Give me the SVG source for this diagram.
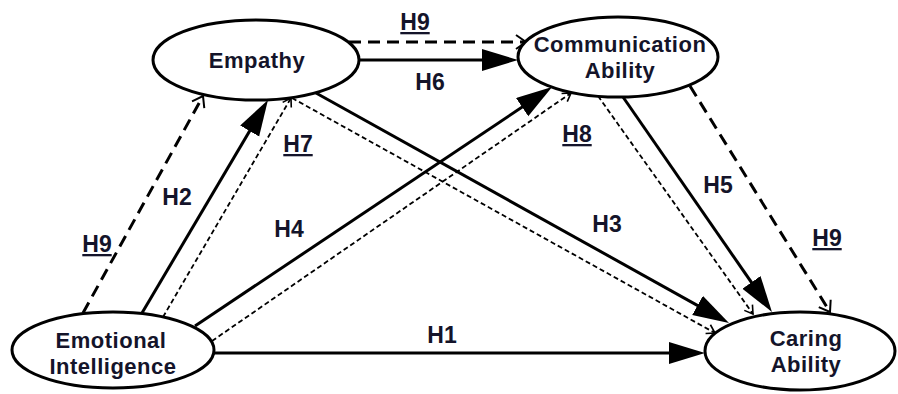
<svg xmlns="http://www.w3.org/2000/svg" width="898" height="394" viewBox="0 0 898 394">
<defs>
<style>
.node ellipse{fill:#fff;stroke:#000;stroke-width:3}
.node text{font-family:"Liberation Sans",Arial,sans-serif;font-weight:bold;font-size:22px;letter-spacing:0.5px;fill:#14142a;text-anchor:middle}
.lbl{font-family:"Liberation Sans",Arial,sans-serif;font-weight:bold;font-size:23px;fill:#14142a;text-anchor:middle}
.ul{text-decoration:underline}
.solid{stroke:#000;stroke-width:3;fill:none;marker-end:url(#fill)}
.dash{stroke:#000;stroke-width:3;fill:none;stroke-dasharray:12 7;marker-end:url(#open)}
.dot{stroke:#000;stroke-width:1.8;fill:none;stroke-dasharray:5 3;marker-end:url(#opensm)}
</style>
<marker id="fill" markerUnits="userSpaceOnUse" markerWidth="40" markerHeight="24" refX="28" refY="11" orient="auto">
<path d="M0,0 L36,11 L0,22 z" fill="#000"/>
</marker>
<marker id="open" markerUnits="userSpaceOnUse" markerWidth="16" markerHeight="20" refX="11" refY="8" orient="auto">
<path d="M1,1 L11,8 L1,15" fill="none" stroke="#000" stroke-width="2"/>
</marker>
<marker id="opensm" markerUnits="userSpaceOnUse" markerWidth="14" markerHeight="16" refX="9" refY="6" orient="auto">
<path d="M1,1 L9,6 L1,11" fill="none" stroke="#000" stroke-width="1.6"/>
</marker>
</defs>
<rect width="898" height="394" fill="#fff"/>
<g id="connectors">
<path class="dash" d="M349,42 L526,42"/>
<path class="solid" d="M359,60 L510,60"/>
<path class="dash" d="M83,313 L203,96"/>
<path class="solid" d="M142,313 L263.9,106.9"/>
<path class="dot" d="M163,317 L291,98"/>
<path class="dot" d="M292,98 L715,333"/>
<path class="solid" d="M316,93 L722,319.1"/>
<path class="solid" d="M195,326 L545.4,91.5"/>
<path class="dot" d="M212,341 L571,93"/>
<path class="dot" d="M598,96 L753,314"/>
<path class="solid" d="M623,97 L767.4,305.4"/>
<path class="dash" d="M690,86 L830,312"/>
<path class="solid" d="M214,353 L697,353"/>
</g>
<g id="labels">
<text class="lbl ul" x="415" y="30">H9</text>
<text class="lbl" x="430" y="90">H6</text>
<text class="lbl ul" x="298" y="152">H7</text>
<text class="lbl ul" x="577" y="142">H8</text>
<text class="lbl" x="177" y="205">H2</text>
<text class="lbl ul" x="97" y="252">H9</text>
<text class="lbl" x="289" y="237">H4</text>
<text class="lbl" x="607" y="232">H3</text>
<text class="lbl" x="718" y="193">H5</text>
<text class="lbl ul" x="827" y="246">H9</text>
<text class="lbl" x="442" y="343">H1</text>
</g>
<g id="empathy" class="node">
<ellipse cx="256" cy="60" rx="103" ry="40"/>
<text x="257" y="68">Empathy</text>
</g>
<g id="communication" class="node">
<ellipse cx="618" cy="57" rx="100" ry="40"/>
<text x="620" y="52">Communication</text>
<text x="620" y="78">Ability</text>
</g>
<g id="emotional" class="node">
<ellipse cx="113" cy="350" rx="101" ry="38"/>
<text x="111" y="348">Emotional</text>
<text x="113" y="374">Intelligence</text>
</g>
<g id="caring" class="node">
<ellipse cx="800" cy="351" rx="95" ry="39"/>
<text x="806" y="346">Caring</text>
<text x="806" y="372">Ability</text>
</g>
</svg>
